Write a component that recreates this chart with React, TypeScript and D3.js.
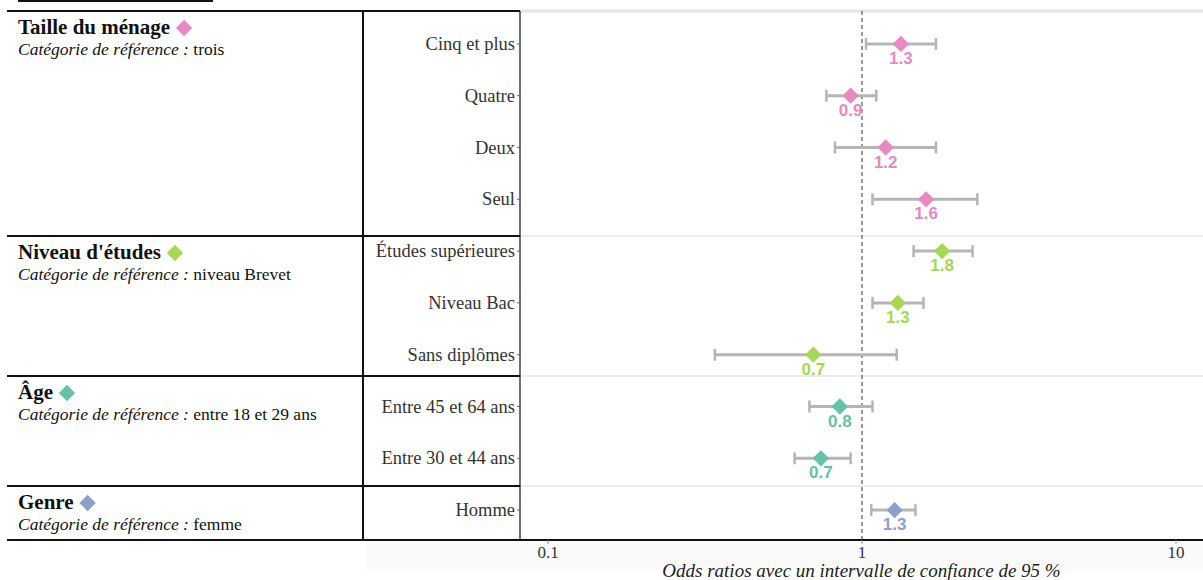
import React from "react";
import * as d3 from "d3";

const categories = [
  "Cinq et plus", "Quatre", "Deux", "Seul",
  "Études supérieures", "Niveau Bac", "Sans diplômes",
  "Entre 45 et 64 ans", "Entre 30 et 44 ans",
  "Homme",
];
const groupOf = [0, 0, 0, 0, 1, 1, 1, 2, 2, 3];
const oddsRatios = [1.33, 0.92, 1.19, 1.6, 1.8, 1.3, 0.7, 0.85, 0.74, 1.27];
const ciLow = [1.03, 0.77, 0.82, 1.08, 1.46, 1.08, 0.34, 0.68, 0.61, 1.07];
const ciHigh = [1.72, 1.11, 1.72, 2.33, 2.25, 1.57, 1.29, 1.08, 0.92, 1.48];
const valueLabels = ["1.3", "0.9", "1.2", "1.6", "1.8", "1.3", "0.7", "0.8", "0.7", "1.3"];

const groupTitles = ["Taille du ménage", "Niveau d'études", "Âge", "Genre"];
const groupRefs = ["trois", "niveau Brevet", "entre 18 et 29 ans", "femme"];
const groupColors = ["#E78AC3", "#A6D854", "#66C2A5", "#8DA0CB"];
const xTicks = [0.1, 1, 10];
const xTickLabels = ["0.1", "1", "10"];
const xTitle = "Odds ratios avec un intervalle de confiance de 95 %";

const W = 1203;
const H = 580;
const tableLeft = 7;
const midCol = 363;
const plotLeft = 520;
const plotRight = 1203;
const top = 11;
const bottom = 540;
const groupTops = [11, 236, 376, 486];

const serif = "'Liberation Serif', 'Times New Roman', serif";
const sans = "'Liberation Sans', Arial, sans-serif";
const titleFont = 21;

function measure(t: string): number {
  if (typeof document === "undefined") return t.length * 9.5;
  const c = document.createElement("canvas");
  const ctx = c.getContext("2d");
  if (!ctx) return t.length * 9.5;
  ctx.font = `bold ${titleFont}px 'Liberation Serif'`;
  return ctx.measureText(t).width;
}

export default function App() {
  const x = d3.scaleLog().domain([0.1, 10]).range([548, 1176]);
  const y = d3.scaleBand().domain(categories).range([18, 536]).padding(0);
  const yc = (c: string) => (y(c) as number) + y.bandwidth() / 2;
  const diamond = d3.symbol().type(d3.symbolDiamond2).size(170);

  return (
    <svg width={W} height={H} style={{ position: "absolute", left: 0, top: 0, display: "block" }}>
      <rect x={0} y={0} width={W} height={H} fill="#fff" />
      <rect x={367} y={541} width={W - 367} height={30} fill="#fafafa" />
      <line x1={18} x2={213} y1={1} y2={1} stroke="#111" strokeWidth={2} />
      <line x1={plotLeft} x2={plotRight} y1={top} y2={top} stroke="#e6e6e6" strokeWidth={3} />
      {groupTops.slice(1).map((g, i) => (
        <line key={"gs" + i} x1={plotLeft} x2={plotRight} y1={g} y2={g} stroke="#ebebeb" strokeWidth={2} />
      ))}
      <line x1={x(1)} x2={x(1)} y1={top} y2={bottom} stroke="#555" strokeWidth={1.2} strokeDasharray="4,3" />
      {groupTops.map((g, i) => (
        <line key={"tl" + i} x1={tableLeft} x2={plotLeft} y1={g} y2={g} stroke="#111" strokeWidth={2} />
      ))}
      <line x1={tableLeft} x2={plotRight} y1={bottom} y2={bottom} stroke="#111" strokeWidth={2} />
      <line x1={midCol} x2={midCol} y1={top} y2={bottom} stroke="#111" strokeWidth={2} />
      <line x1={plotLeft} x2={plotLeft} y1={top} y2={bottom} stroke="#111" strokeWidth={1.2} />

      {groupTitles.map((t, i) => {
        const gy = groupTops[i];
        return (
          <g key={"gt" + i}>
            <text x={18} y={gy + 23} fontFamily={serif} fontWeight="bold" fontSize={titleFont} fill="#111">
              {t}
            </text>
            <path
              d={diamond() as string}
              transform={`translate(${18 + measure(t) + 14},${gy + 17})`}
              fill={groupColors[i]}
            />
            <text x={18} y={gy + 44} fontFamily={serif} fontSize={17.5} fill="#111">
              <tspan fontStyle="italic">Catégorie de référence :</tspan>
              <tspan> {groupRefs[i]}</tspan>
            </text>
          </g>
        );
      })}

      {categories.map((c) => (
        <g key={"yt" + c}>
          <line x1={plotLeft - 3} x2={plotLeft} y1={yc(c)} y2={yc(c)} stroke="#666" strokeWidth={1} />
          <text x={plotLeft - 5} y={yc(c) + 6} textAnchor="end" fontFamily={serif} fontSize={18.5} fill="#333">
            {c}
          </text>
        </g>
      ))}

      {categories.map((c, i) => {
        const cy = yc(c);
        const col = groupColors[groupOf[i]];
        const x0 = x(ciLow[i]);
        const x1 = x(ciHigh[i]);
        return (
          <g key={"pt" + c}>
            <line x1={x0} x2={x1} y1={cy} y2={cy} stroke="#b5b5b5" strokeWidth={3} />
            <line x1={x0} x2={x0} y1={cy - 6} y2={cy + 6} stroke="#b5b5b5" strokeWidth={2.5} />
            <line x1={x1} x2={x1} y1={cy - 6} y2={cy + 6} stroke="#b5b5b5" strokeWidth={2.5} />
            <path d={diamond() as string} transform={`translate(${x(oddsRatios[i])},${cy})`} fill={col} />
            <text x={x(oddsRatios[i])} y={cy + 20} textAnchor="middle" fontFamily={sans} fontWeight="bold" fontSize={17} fill={col}>
              {valueLabels[i]}
            </text>
          </g>
        );
      })}

      {xTicks.map((t, i) => (
        <g key={"xt" + t}>
          <line x1={x(t)} x2={x(t)} y1={bottom} y2={bottom + 4} stroke="#999" strokeWidth={1} />
          <text x={x(t)} y={bottom + 18} textAnchor="middle" fontFamily={serif} fontSize={17} fill="#333">
            {xTickLabels[i]}
          </text>
        </g>
      ))}
      <text x={(plotLeft + plotRight) / 2} y={577} textAnchor="middle" fontFamily={serif} fontStyle="italic" fontSize={19} fill="#222">
        {xTitle}
      </text>
    </svg>
  );
}
